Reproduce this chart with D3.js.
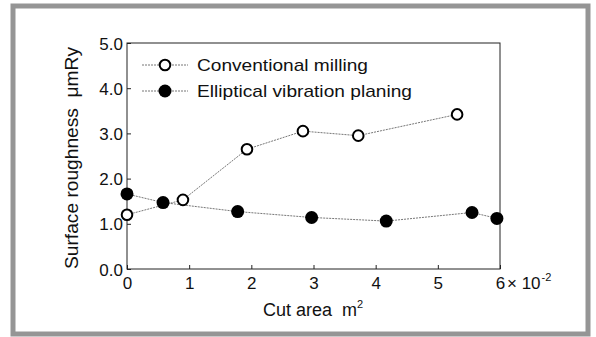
<!DOCTYPE html>
<html>
<head>
<meta charset="utf-8">
<script src="https://cdn.jsdelivr.net/npm/d3@7"></script>
<style>
  body { margin: 0; background: #fff; }
  svg text { font-family: "Liberation Sans", Arial, sans-serif; fill: #111; white-space: pre; }
</style>
</head>
<body>
<div id="chart"></div>
<script>
// data (x in units of 10^-2 m^2, y in um Ry)
const millingX = [0, 0.9, 1.93, 2.83, 3.72, 5.31];
const millingY = [1.2, 1.53, 2.65, 3.05, 2.95, 3.42];
const planingX = [0, 0.58, 1.78, 2.97, 4.17, 5.55, 5.95];
const planingY = [1.66, 1.47, 1.27, 1.14, 1.06, 1.25, 1.12];
const xTicks = [0, 1, 2, 3, 4, 5, 6];
const yTicks = [0, 1, 2, 3, 4, 5];
const seriesNames = ["Conventional milling", "Elliptical vibration planing"];

const width = 596, height = 337;
const plotL = 127, plotR = 500, plotT = 43, plotB = 269;

const svg = d3.select("#chart").append("svg")
  .attr("width", width)
  .attr("height", height);

// outer frame of the figure
svg.append("rect")
  .attr("x", 13).attr("y", 6)
  .attr("width", 575).attr("height", 328)
  .attr("fill", "none")
  .attr("stroke", "#959595")
  .attr("stroke-width", 5);

const x = d3.scaleLinear().domain([0, 6]).range([plotL, plotR]);
const y = d3.scaleLinear().domain([0, 5]).range([plotB, plotT]);

// plot box
svg.append("rect")
  .attr("x", plotL).attr("y", plotT)
  .attr("width", plotR - plotL).attr("height", plotB - plotT)
  .attr("fill", "none")
  .attr("stroke", "#222")
  .attr("stroke-width", 1);

// axes with inward ticks
const xAxis = svg.append("g")
  .attr("transform", "translate(0," + plotB + ")")
  .call(d3.axisBottom(x).tickValues(xTicks).tickSizeInner(-4).tickSizeOuter(0).tickPadding(8).tickFormat(d3.format("d")));
const yAxis = svg.append("g")
  .attr("transform", "translate(" + plotL + ",0)")
  .call(d3.axisLeft(y).tickValues(yTicks).tickSizeInner(-4).tickSizeOuter(0).tickPadding(4).tickFormat(d3.format(".1f")));

[xAxis, yAxis].forEach(g => {
  g.select(".domain").remove();
  g.selectAll("line").attr("stroke", "#222");
  g.selectAll("text").style("font-size", "17px").attr("fill", "#111");
});
yAxis.selectAll("text").attr("dy", "0.36em");

// "× 10^-2" after the last x tick
const mult = svg.append("text")
  .attr("x", x(6) + 7).attr("y", 289)
  .style("font-size", "17px");
mult.append("tspan").text("× 10");
mult.append("tspan").attr("dx", 1).attr("dy", -8).style("font-size", "11px").text("-2");

// axis titles
const xt = svg.append("text")
  .attr("x", 263).attr("y", 316)
  .style("font-size", "18px");
xt.append("tspan").text("Cut area  m");
xt.append("tspan").attr("dy", -8).style("font-size", "11px").text("2");

svg.append("text")
  .attr("transform", "translate(78,158) rotate(-90)")
  .attr("text-anchor", "middle")
  .attr("textLength", 222)
  .attr("lengthAdjust", "spacingAndGlyphs")
  .style("font-size", "18px")
  .text("Surface roughness  \u03bcmRy");

// series
const line = d3.line().x(d => x(d[0])).y(d => y(d[1]));
const milling = millingX.map((v, i) => [v, millingY[i]]);
const planing = planingX.map((v, i) => [v, planingY[i]]);

[milling, planing].forEach(data => {
  svg.append("path")
    .datum(data)
    .attr("d", line)
    .attr("fill", "none")
    .attr("stroke", "#777")
    .attr("stroke-width", 1)
    .attr("stroke-dasharray", "2,1");
});

svg.selectAll("circle.mill")
  .data(milling)
  .enter().append("circle")
  .attr("class", "mill")
  .attr("cx", d => x(d[0])).attr("cy", d => y(d[1]))
  .attr("r", 5.3)
  .attr("fill", "#fff")
  .attr("stroke", "#000")
  .attr("stroke-width", 2);

svg.selectAll("circle.plan")
  .data(planing)
  .enter().append("circle")
  .attr("class", "plan")
  .attr("cx", d => x(d[0])).attr("cy", d => y(d[1]))
  .attr("r", 6.5)
  .attr("fill", "#000");

// legend
const legend = svg.append("g");
seriesNames.forEach((name, i) => {
  const ly = 65 + i * 26;
  legend.append("line")
    .attr("x1", 142).attr("x2", 188)
    .attr("y1", ly).attr("y2", ly)
    .attr("stroke", "#777")
    .attr("stroke-dasharray", "2,1");
  if (i === 0) {
    legend.append("circle").attr("cx", 165).attr("cy", ly).attr("r", 5.3)
      .attr("fill", "#fff").attr("stroke", "#000").attr("stroke-width", 2);
  } else {
    legend.append("circle").attr("cx", 165).attr("cy", ly).attr("r", 6.5)
      .attr("fill", "#000");
  }
  legend.append("text")
    .attr("x", 197).attr("y", ly + 6)
    .attr("textLength", i === 0 ? 171 : 215)
    .attr("lengthAdjust", "spacingAndGlyphs")
    .style("font-size", "17px")
    .text(name);
});
</script>
</body>
</html>
